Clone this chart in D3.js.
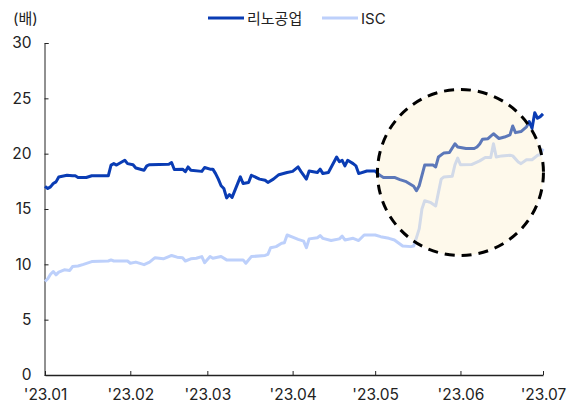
<!DOCTYPE html>
<html>
<head>
<meta charset="utf-8">
<script src="https://cdn.jsdelivr.net/npm/d3@7"></script>
<style>
  html, body { margin: 0; padding: 0; background: #fff; }
  svg { display: block; }
  text { font-family: Inter, "Noto Sans CJK KR", sans-serif; fill: #222; }
</style>
</head>
<body>
<svg id="chart" width="572" height="405"></svg>
<script>
// P/E multiple (배), 2023 H1
const seriesNames = ["리노공업", "ISC"];

const rinoDates = [
  "01-01","01-02","01-03","01-04","01-05","01-06","01-09","01-11","01-12","01-13",
  "01-16","01-18","01-20","01-24","01-25","01-26","01-27","01-30","01-31","02-02",
  "02-03","02-06","02-07","02-08","02-15","02-16","02-17","02-20","02-21","02-22",
  "02-23","02-27","02-28","03-02","03-03","03-04","03-05","03-06","03-07","03-08",
  "03-09","03-10","03-13","03-14","03-16","03-17","03-20","03-22","03-23","03-25",
  "03-27","03-30","04-01","04-03","04-04","04-06","04-07","04-10","04-11","04-12",
  "04-14","04-17","04-18","04-19","04-20","04-21","04-23","04-24","04-25","04-28",
  "05-01","05-02","05-03","05-04","05-08","05-10","05-12","05-15","05-16","05-17",
  "05-19","05-22","05-23","05-24","05-26","05-28","05-30","05-31","06-03","06-06",
  "06-07","06-08","06-09","06-11","06-13","06-15","06-17","06-19","06-20","06-21",
  "06-23","06-25","06-26","06-27","06-28","06-29","06-30","07-01"
];
const rinoValues = [
  17.05,16.85,17.0,17.3,17.45,17.9,18.05,18.0,18.0,17.85,
  17.85,18.0,18.0,18.0,18.97,19.1,18.97,19.4,19.1,19.0,
  18.7,18.5,18.9,19.0,19.05,19.2,18.57,18.6,18.37,18.8,
  18.5,18.4,18.75,18.6,18.6,18.2,17.7,17.1,16.85,16.0,
  16.3,16.05,17.9,17.3,17.4,18.05,17.7,17.6,17.4,17.7,
  18.1,18.3,18.4,18.8,18.4,17.7,18.43,18.3,18.6,18.2,
  18.3,19.7,19.27,19.4,18.9,19.4,19.1,18.9,18.2,18.43,
  18.43,18.2,18.0,17.85,17.85,17.65,17.5,17.05,16.65,17.1,
  18.97,18.97,18.8,19.7,20.07,20.1,20.9,20.6,20.47,20.47,
  20.6,20.87,21.3,21.35,21.8,21.37,21.5,21.7,22.5,21.9,
  22.0,22.43,22.9,22.27,23.7,23.2,23.35,23.6
];

const iscDates = [
  "01-01","01-02","01-03","01-04","01-05","01-06","01-08","01-10","01-11","01-13",
  "01-15","01-18","01-24","01-25","01-26","01-30","01-31","02-01","02-03","02-06",
  "02-08","02-10","02-13","02-15","02-16","02-18","02-20","02-21","02-23","02-25",
  "02-27","02-28","03-02","03-03","03-06","03-08","03-12","03-14","03-15","03-17",
  "03-22","03-23","03-24","03-26","03-28","03-29","03-30","04-01","04-03","04-05",
  "04-06","04-07","04-10","04-11","04-12","04-15","04-18","04-19","04-20","04-23",
  "04-25","04-27","05-01","05-03","05-06","05-08","05-11","05-14","05-15","05-16",
  "05-17","05-18","05-19","05-21","05-23","05-24","05-25","05-26","05-29","05-30",
  "05-31","06-01","06-05","06-08","06-10","06-12","06-13","06-14","06-16","06-19",
  "06-20","06-22","06-23","06-25","06-27","06-29","06-30","07-01"
];
const iscValues = [
  8.45,8.7,9.1,9.35,9.05,9.3,9.5,9.45,9.8,9.85,
  10.0,10.25,10.3,10.4,10.3,10.3,10.3,10.1,10.2,9.97,
  10.2,10.6,10.5,10.7,10.8,10.65,10.6,10.3,10.5,10.55,
  10.7,10.15,10.7,10.55,10.7,10.4,10.4,10.4,10.1,10.7,
  10.8,10.9,11.5,11.6,11.9,11.95,12.65,12.45,12.25,12.1,
  11.5,12.3,12.4,12.6,12.35,12.15,12.3,12.55,12.2,12.35,
  12.15,12.65,12.65,12.5,12.35,12.2,11.65,11.6,11.65,12.4,
  13.2,15.0,15.75,15.6,15.27,16.5,17.7,17.9,17.95,19.0,
  19.6,19.0,19.02,19.35,19.65,19.65,20.9,19.7,19.8,19.85,
  19.8,19.25,19.1,19.45,19.45,19.85,19.9,20.45
];

const yTicks = [0, 5, 10, 15, 20, 25, 30];
const xTickMonths = ["01-01","02-01","03-01","04-01","05-01","06-01","07-01"];
const unitLabel = "(배)";

// highlighted window: early May to end of June
const focusStart = "05-02";
const focusEnd = "07-01";
const focusLow = 10.8;
const focusHigh = 25.8;

const parse = s => d3.timeParse("%Y-%m-%d")("2023-" + s);
const rino = rinoDates.map((d, i) => ({ date: parse(d), value: rinoValues[i] }));
const isc = iscDates.map((d, i) => ({ date: parse(d), value: iscValues[i] }));

const svg = d3.select("#chart");
const margin = { left: 44.5, right: 29, top: 43, bottom: 30 };
const W = 572, H = 405;

const x = d3.scaleTime()
  .domain([parse("01-01"), parse("07-01")])
  .range([margin.left + 0.5, W - margin.right]);
const y = d3.scaleLinear()
  .domain([0, 30])
  .range([H - margin.bottom, margin.top]);

const line = d3.line().x(d => x(d.date)).y(d => y(d.value)).curve(d3.curveLinear);

// axes
const yAxis = d3.axisLeft(y).tickValues(yTicks).tickSizeInner(-4).tickSizeOuter(-4).tickPadding(13);
const gy = svg.append("g").attr("transform", `translate(${margin.left},0)`).call(yAxis);
gy.select(".domain").attr("stroke", "#222").attr("stroke-width", 1);
gy.selectAll(".tick line").attr("stroke", "#222");
gy.selectAll(".tick text").style("font-size", "15.5px").attr("fill", "#222");

const xAxis = d3.axisBottom(x)
  .tickValues(xTickMonths.map(parse))
  .tickFormat(d3.timeFormat("'%y.%m"))
  .tickSizeInner(-4).tickSizeOuter(0).tickPadding(14);
const gx = svg.append("g").attr("transform", `translate(0,${y(0)})`).call(xAxis);
gx.select(".domain").attr("stroke", "#222").attr("stroke-width", 1.5);
gx.selectAll(".tick line").attr("stroke", "#222");
gx.selectAll(".tick text").style("font-size", "15.5px").attr("fill", "#222");

svg.append("text").attr("x", 13).attr("y", 24).style("font-size", "15px").text(unitLabel);

// series
svg.append("path").datum(isc).attr("fill", "none")
  .attr("stroke", "#bdd0fb").attr("stroke-width", 3).attr("stroke-linejoin", "round")
  .attr("d", line);
svg.append("path").datum(rino).attr("fill", "none")
  .attr("stroke", "#0a3cb4").attr("stroke-width", 3).attr("stroke-linejoin", "round")
  .attr("d", line);

// highlight circle over the recent period
const cx = (x(parse(focusStart)) + x(parse(focusEnd))) / 2;
const cy = (y(focusLow) + y(focusHigh)) / 2;
const r = (y(focusLow) - y(focusHigh)) / 2;
svg.append("circle").attr("cx", cx).attr("cy", cy).attr("r", r)
  .attr("fill", "rgb(253,236,196)").attr("fill-opacity", 0.34);
svg.append("circle").attr("cx", cx).attr("cy", cy).attr("r", r)
  .attr("fill", "none").attr("stroke", "#000").attr("stroke-width", 3)
  .attr("stroke-dasharray", "10 7");

// legend
const colors = ["#0a3cb4", "#bdd0fb"];
const legendX = [208, 322];
seriesNames.forEach((name, i) => {
  const g = svg.append("g").attr("transform", `translate(${legendX[i]},18)`);
  g.append("line").attr("x1", 0).attr("x2", 36).attr("y1", 0).attr("y2", 0)
    .attr("stroke", colors[i]).attr("stroke-width", 3);
  g.append("text").attr("x", 39).attr("y", 5.5).style("font-size", "15px").text(name);
});
</script>
</body>
</html>
